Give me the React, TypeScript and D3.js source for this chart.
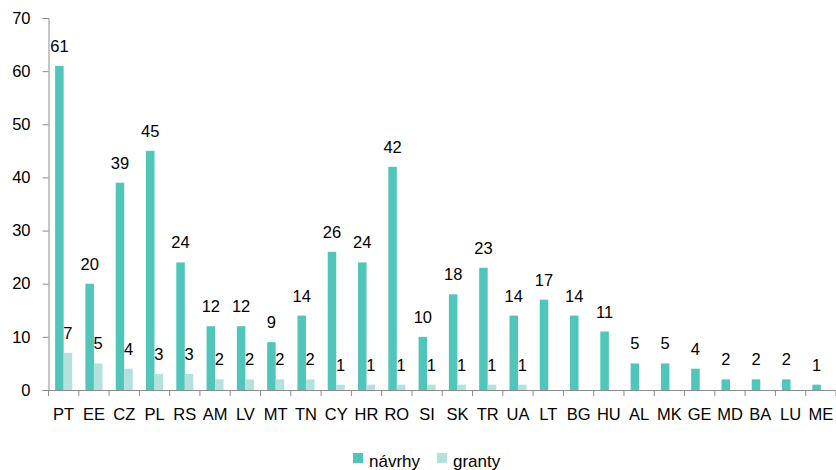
import { useEffect, useRef } from "react";
import * as d3 from "d3";

const categories = ["PT", "EE", "CZ", "PL", "RS", "AM", "LV", "MT", "TN", "CY", "HR", "RO", "SI", "SK", "TR", "UA", "LT", "BG", "HU", "AL", "MK", "GE", "MD", "BA", "LU", "ME"];
const navrhy = [61, 20, 39, 45, 24, 12, 12, 9, 14, 26, 24, 42, 10, 18, 23, 14, 17, 14, 11, 5, 5, 4, 2, 2, 2, 1];
const granty = [7, 5, 4, 3, 3, 2, 2, 2, 2, 1, 1, 1, 1, 1, 1, 1, 0, 0, 0, 0, 0, 0, 0, 0, 0, 0];
const yTicks = [0, 10, 20, 30, 40, 50, 60, 70];
const seriesNames = ["návrhy", "granty"];

const COLORS = ["#4fc6b9", "#b3e1dc"];
const FONT = "'Liberation Sans', Arial, sans-serif";

export default function App() {
  const ref = useRef<SVGSVGElement | null>(null);

  useEffect(() => {
    if (!ref.current) return;
    const svg = d3.select(ref.current);
    svg.selectAll("*").remove();
    const width = 836;
    const height = 470;
    const left = 48.5;
    const right = 836;
    const top = 18;
    const bottom = 390;

    const x = d3.scaleBand<string>().domain(categories).range([left, right]);
    const inner = d3.scaleBand<number>().domain([0, 1]).range([0, x.bandwidth()]).paddingInner(0).paddingOuter(0.78);
    const y = d3.scaleLinear().domain([0, 70]).range([bottom, top]);

    svg.attr("viewBox", `0 0 ${width} ${height}`);

    const series = [navrhy, granty];
    series.forEach((vals, si) => {
      const g = svg.append("g");
      const bx = (i: number) => (x(categories[i]) ?? 0) + (inner(si) ?? 0);
      g.selectAll("rect")
        .data(vals)
        .join("rect")
        .attr("x", (_, i) => bx(i))
        .attr("width", inner.bandwidth())
        .attr("y", (d) => y(d))
        .attr("height", (d) => y(0) - y(d))
        .attr("fill", COLORS[si]);
      // value labels (zero values have none)
      vals.forEach((d, i) => {
        if (d <= 0) return;
        g.append("text")
          .attr("x", bx(i) + inner.bandwidth() / 2)
          .attr("y", y(d) - 14)
          .attr("text-anchor", "middle")
          .attr("font-family", FONT)
          .attr("font-size", 16.5)
          .attr("fill", "#000")
          .text(d);
      });
    });

    // y axis
    const ya = svg.append("g").attr("transform", `translate(${left},0)`)
      .call(d3.axisLeft(y).tickValues(yTicks).tickSize(6).tickPadding(12).tickSizeOuter(6));
    ya.select(".domain").attr("stroke", "#8c8c8c");
    ya.selectAll("line").attr("stroke", "#8c8c8c");
    ya.selectAll("text").attr("font-family", FONT).attr("font-size", 16.5).attr("fill", "#000");

    // x axis
    const xa = svg.append("g").attr("transform", `translate(0,${bottom})`)
      .call(d3.axisBottom(x).tickSize(0).tickPadding(18));
    xa.select(".domain").attr("stroke", "#8c8c8c");
    xa.selectAll("text").attr("font-family", FONT).attr("font-size", 16.5).attr("fill", "#000");
    xa.append("g")
      .selectAll("line")
      .data([...categories.map((c) => x(c) ?? 0), right])
      .join("line")
      .attr("x1", (d) => d).attr("x2", (d) => d)
      .attr("y1", 0).attr("y2", 6)
      .attr("stroke", "#8c8c8c");

    // legend
    const legend = svg.append("g");
    const lx = [353, 437];
    seriesNames.forEach((name, i) => {
      legend.append("rect").attr("x", lx[i]).attr("y", 453).attr("width", 10).attr("height", 10).attr("fill", COLORS[i]);
      legend.append("text").attr("x", lx[i] + 16).attr("y", 467)
        .attr("font-family", FONT).attr("font-size", 17).attr("fill", "#000").text(name);
    });
  }, []);

  return (
    <svg
      ref={ref}
      width={836}
      height={470}
      style={{ position: "absolute", left: 0, top: 0, display: "block", background: "#fff" }}
    />
  );
}
